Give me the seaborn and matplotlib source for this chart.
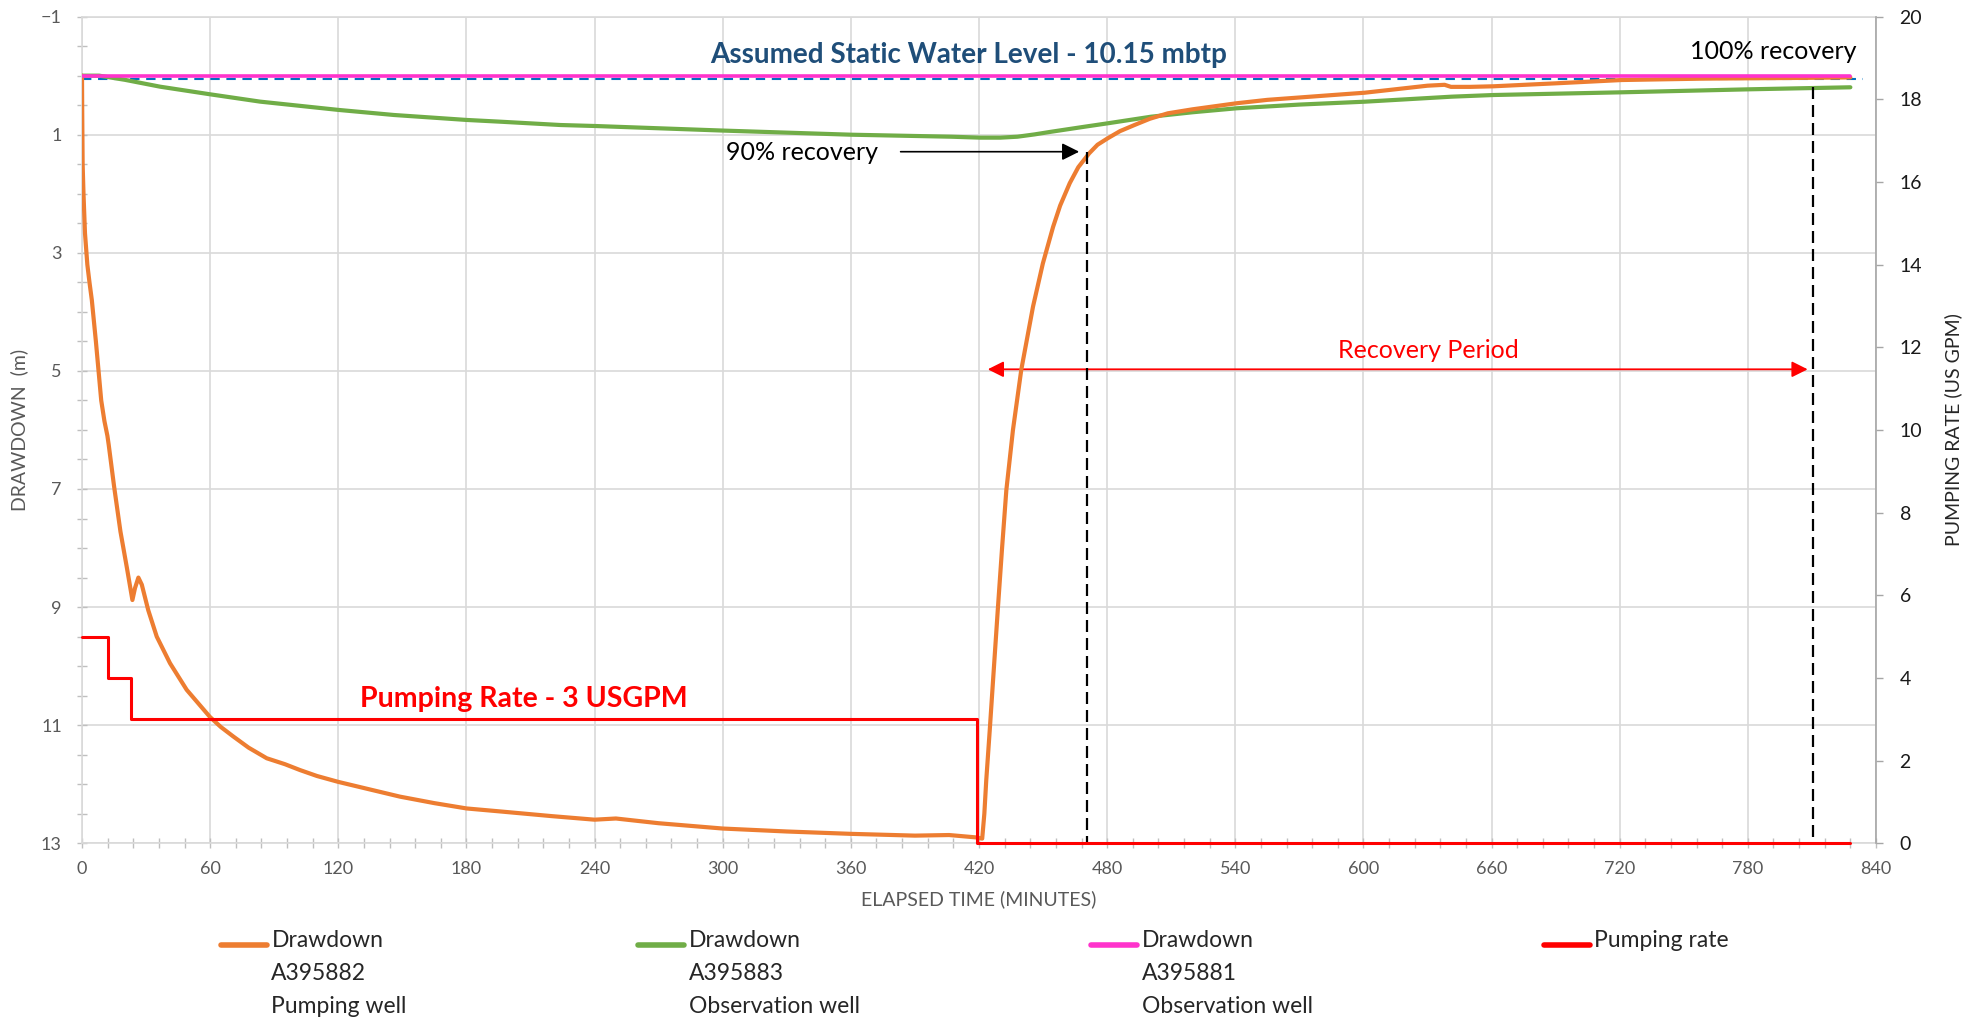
import numpy as np
import matplotlib
matplotlib.use("Agg")
import matplotlib.pyplot as plt
import seaborn as sns
from matplotlib.ticker import MultipleLocator
from matplotlib.legend_handler import HandlerLine2D

# Drawdown A395882 (pumping well)
pump_time = [0, 0.1, 0.3, 0.7, 1.4, 2.5, 3.5, 4.6, 6.5, 8.0, 9.0, 10.5, 11.9, 12.5, 15.0, 18.0,
             21.0, 23.6, 24.8, 26.4, 28.0, 31.0, 35.0, 41.2, 49.0, 59.9, 65, 70.8, 78, 86.5, 95,
             102.1, 110, 120.0, 135, 148.9, 165, 180.1, 195.7, 220, 240, 250, 270, 300, 330, 360,
             390, 406, 418.6, 421.5, 422.5, 423.4, 425, 426.6, 428.9, 430.8, 432.8, 435.9, 439.8,
             445.3, 449.9, 454.7, 458, 462.5, 466.5, 471.6, 475.5, 480.3, 486, 492.8, 500, 508.4,
             520, 540.5, 555, 570, 585, 600.6, 630, 638, 641, 650, 661, 690, 721, 760, 800, 828]
pump_drawdown = [0, 0.6, 1.5, 2.0, 2.67, 3.2, 3.5, 3.8, 4.5, 5.1, 5.5, 5.85, 6.1, 6.25, 6.95, 7.72,
                 8.33, 8.88, 8.68, 8.5, 8.62, 9.05, 9.50, 9.95, 10.40, 10.86, 11.03, 11.19, 11.38, 11.56, 11.66,
                 11.76, 11.86, 11.96, 12.09, 12.21, 12.32, 12.41, 12.46, 12.54, 12.6, 12.58, 12.66, 12.75, 12.8, 12.84,
                 12.87, 12.86, 12.9, 12.92, 12.5, 11.93, 11.1, 10.23, 8.99, 8.0, 7.02, 6.0, 4.98,
                 3.91, 3.18, 2.56, 2.2, 1.82, 1.55, 1.315, 1.17, 1.06, 0.94, 0.836, 0.73, 0.638,
                 0.57, 0.468, 0.41, 0.37, 0.33, 0.289, 0.17, 0.155, 0.19, 0.19, 0.18, 0.13, 0.074, 0.05, 0.04, 0.03]

# Drawdown A395883 (observation well)
obs_time = [0, 8, 13.1, 20, 36.6, 60, 83.4, 120, 146, 180, 196, 224, 240.5, 300, 360, 407, 420.6,
            430, 438, 446, 453.8, 469.4, 480.3, 500.6, 520, 540.5, 570, 600.6, 641.3, 660.8, 721, 781, 828]
obs_drawdown = [0, 0.0, 0.03, 0.07, 0.187, 0.316, 0.44, 0.58, 0.666, 0.75, 0.78, 0.836, 0.853, 0.93, 1.0,
                1.034, 1.05, 1.05, 1.034, 0.995, 0.95, 0.865, 0.807, 0.695, 0.62, 0.553, 0.49, 0.441,
                0.356, 0.328, 0.282, 0.231, 0.197]

# Drawdown A395881 (observation well) - flat
ref_time = [0, 828]
ref_drawdown = [0, 0]

# Pumping rate (US GPM), step changes
rate_time = [0, 12, 23, 419, 828]
rate_usgpm = [5, 4, 3, 0, 0]

# Assumed static water level line and recovery markers
static_time = [0, 834]
static_level = [0.065, 0.065]
recovery_90_time = 470.8
recovery_90_drawdown = 1.3
recovery_100_time = 810.5
recovery_100_drawdown = 0.2
recovery_start = 422.8

legend_labels = ["Drawdown\nA395882\nPumping well",
                 "Drawdown\nA395883\nObservation well",
                 "Drawdown\nA395881\nObservation well",
                 "Pumping rate\n \n "]

ORANGE = "#ED7D31"
GREEN = "#70AD47"
PINK = "#FF33CC"
RED = "#FF0000"
BLUE = "#0070C0"
GRID = "#D9D9D9"
LABEL_GRAY = "#595959"

sns.set_style("white")
plt.rcParams["font.family"] = ["Lato", "DejaVu Sans"]

W, H = 1984, 1017
fig = plt.figure(figsize=(W / 100, H / 100), dpi=100)
ax = fig.add_axes([82 / W, 1 - 843.3 / H, (1876 - 82) / W, (843.3 - 16.6) / H])
ax2 = ax.twinx()

# static level + drawdown series
ax.plot(static_time, static_level, color=BLUE, lw=1.5, dashes=(4.5, 3.2), zorder=2)
sns.lineplot(x=obs_time, y=obs_drawdown, ax=ax, color=GREEN, lw=3.0, legend=False, zorder=3)
line_obs = ax.lines[-1]
sns.lineplot(x=pump_time, y=pump_drawdown, ax=ax, color=ORANGE, lw=3.0, legend=False, zorder=4)
line_pump = ax.lines[-1]
sns.lineplot(x=ref_time, y=ref_drawdown, ax=ax, color=PINK, lw=2.6, legend=False, zorder=5)
line_ref = ax.lines[-1]

# pumping rate on secondary axis
sns.lineplot(x=rate_time, y=rate_usgpm, ax=ax2, color=RED, lw=2.2, legend=False,
             drawstyle="steps-post", zorder=5)
line_rate = ax2.lines[-1]
line_rate.set_clip_on(False)

# recovery markers
ax.plot([recovery_90_time, recovery_90_time], [recovery_90_drawdown, 13], color="black",
        lw=1.6, dashes=(5.4, 2.7), zorder=6)
ax.plot([recovery_100_time, recovery_100_time], [recovery_100_drawdown, 13], color="black",
        lw=1.6, dashes=(5.4, 2.7), zorder=6)
ax.annotate("", xy=(468.2, 1.288), xytext=(382, 1.288),
            arrowprops=dict(arrowstyle="-|>", color="black", lw=1.2, mutation_scale=26))
ax.annotate("", xy=(recovery_start, 4.973), xytext=(809.3, 4.973),
            arrowprops=dict(arrowstyle="<|-|>", color=RED, lw=1.3, mutation_scale=24))

ax.text(414.9, -0.214, "Assumed Static Water Level - 10.15 mbtp", ha="center", va="baseline",
        fontsize=20.1, fontweight="bold", color="#1F4E79")
ax.text(207, 10.69, "Pumping Rate - 3 USGPM", ha="center", va="baseline",
        fontsize=20.5, fontweight="bold", color=RED)
ax.text(372.7, 1.43, "90% recovery", ha="right", va="baseline", fontsize=18, color="black")
ax.text(831, -0.277, "100% recovery", ha="right", va="baseline", fontsize=18, color="black")
ax.text(630.2, 4.787, "Recovery Period", ha="center", va="baseline", fontsize=18, color=RED)

# axes styling
ax.set_xlim(0, 840)
ax.set_ylim(13, -1)
ax.xaxis.set_major_locator(MultipleLocator(60))
ax.xaxis.set_minor_locator(MultipleLocator(12))
ax.set_yticks(np.arange(-1, 14, 2))
ax.yaxis.set_minor_locator(MultipleLocator(0.5))
ax.grid(True, which="major", color=GRID, lw=1.2)
ax.set_axisbelow(True)

ax2.set_ylim(0, 20)
ax2.set_yticks(np.arange(0, 21, 2))
ax2.grid(False)

ax.tick_params(axis="x", which="both", direction="inout", length=7, width=1, color="#BFBFBF",
               labelcolor=LABEL_GRAY, labelsize=13, pad=9, bottom=True)
ax.tick_params(axis="y", which="both", direction="inout", length=7, width=1, color="#BFBFBF",
               labelcolor=LABEL_GRAY, labelsize=13, pad=11, left=True)
ax2.tick_params(axis="y", which="major", direction="out", length=5, width=1, color="#A6A6A6",
                labelcolor="#1a1a1a", labelsize=14, pad=12, right=True)

for name, sp in ax.spines.items():
    sp.set_color(GRID)
    sp.set_linewidth(1.2)
ax.spines["right"].set_visible(False)
for name, sp in ax2.spines.items():
    sp.set_visible(name == "right")
ax2.spines["right"].set_color("#A6A6A6")
ax2.spines["right"].set_linewidth(1.2)

ax.set_xlabel("ELAPSED TIME (MINUTES)", fontsize=14, color=LABEL_GRAY, labelpad=10)
ax.set_ylabel("DRAWDOWN  (m)", fontsize=14, color=LABEL_GRAY)
ax.yaxis.set_label_coords(-0.030, 0.5)
ax2.set_ylabel("PUMPING RATE (US GPM)", fontsize=14, color="#262626", rotation=90)
ax2.yaxis.set_label_coords(1.038, 0.5)


# legend: handle sits on the first line of each label
class TopLineHandler(HandlerLine2D):
    def __init__(self, shift, **kw):
        super().__init__(**kw)
        self.shift = shift

    def create_artists(self, legend, orig_handle, xdescent, ydescent, width, height, fontsize, trans):
        arts = super().create_artists(legend, orig_handle, xdescent, ydescent, width, height, fontsize, trans)
        for a in arts:
            a.set_ydata(np.asarray(a.get_ydata(), dtype=float) + self.shift)
        return arts


handles = [line_pump, line_obs, line_ref, line_rate]
shift = 20.9
leg = fig.legend(handles, legend_labels, loc="upper left", bbox_to_anchor=(221 / W, 1 - 930 / H),
                 ncol=4, frameon=False, borderpad=0, borderaxespad=0, handlelength=2.0,
                 handletextpad=0.2, columnspacing=10.1, fontsize=16.5,
                 handler_map={h: TopLineHandler(shift) for h in handles})
for t in leg.get_texts():
    t.set_linespacing(1.7)
for lh in leg.get_lines():
    lh.set_linewidth(4)

fig.savefig("out.png", dpi=100)
